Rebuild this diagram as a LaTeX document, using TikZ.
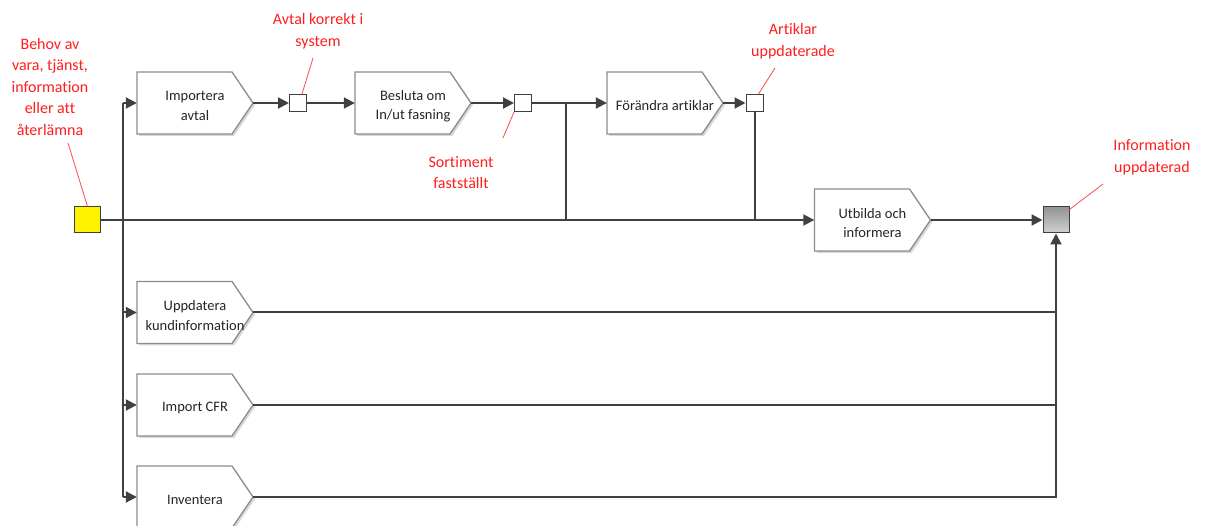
\documentclass[tikz,border=0pt]{standalone}
\usepackage{fontspec}
\setmainfont{Carlito}[Ligatures=NoCommon]
\usetikzlibrary{arrows.meta,calc,shadows}
\definecolor{linecol}{RGB}{64,64,64}
\definecolor{boxcol}{RGB}{140,140,140}
\definecolor{redtxt}{RGB}{255,30,30}
\tikzset{
 conn/.style={draw=linecol, line width=2pt},
 arr/.style={conn, -{Triangle[length=11pt,width=11pt]}},
 procshape/.style={draw=boxcol, line width=1.3pt, fill=white, drop shadow={shadow xshift=2pt, shadow yshift=-2pt, fill=black!25, opacity=0.6}},
 procanchor/.style={inner sep=0pt, minimum width=116pt, minimum height=62pt},
 proctext/.style={font=\fontsize{14.5}{19.5}\selectfont, align=center, text=black!85, inner sep=0pt},
 lab/.style={font=\fontsize{16}{21.5}\selectfont, align=center, text=redtxt, inner sep=0pt},
 leader/.style={draw=redtxt!80, line width=0.8pt},
 evt/.style={draw=linecol, fill=white, line width=1pt, minimum size=17pt, inner sep=0pt},
 bigevt/.style={draw=linecol, line width=1pt, minimum size=26pt, inner sep=0pt},
}
\newcommand\pbox[4]{%
 \path[procshape] ($(#2,#3)+(-58,-31)$) -- ($(#2,#3)+(37,-31)$) -- ($(#2,#3)+(58,0)$) -- ($(#2,#3)+(37,31)$) -- ($(#2,#3)+(-58,31)$) -- cycle;
 \node[procanchor] (#1) at (#2,#3) {};
 \node[proctext] (#1txt) at ($(#1)+(0,3)$) {#4};
}
\begin{document}
\begin{tikzpicture}[x=1pt,y=-1pt]
\clip (0,0) rectangle (1208,526);
\fill[white] (0,0) rectangle (1208,526);
% process boxes
\pbox{imp}{195}{103}{Importera\\avtal}
\pbox{bes}{413}{103}{Besluta om\\In/ut fasning}
\pbox{fora}{665}{103}{Förändra artiklar}
\pbox{utb}{872.5}{220}{Utbilda och\\informera}
\pbox{upd}{195}{312.5}{Uppdatera\\kundinformation}
\pbox{cfr}{195}{405}{Import CFR}
\pbox{inv}{195}{497}{Inventera}
% events
\node[bigevt, fill=yellow] (start) at (87.5,220) {};
\node[bigevt, top color=black!42, bottom color=black!18] (end) at (1056,220) {};
\node[evt] (e1) at (298,103) {};
\node[evt] (e2) at (523,103) {};
\node[evt] (e3) at (754.5,103) {};
% connectors
\coordinate (bt) at (123,103);
\coordinate (bb) at (123,497);
\coordinate (j1) at (566,103);
\draw[conn] (bt) -- (bb);
\draw[arr] (start.east) -- (utb.west);
\draw[arr] (bt) -- (imp.west);
\draw[arr] (upd.west -| bt) -- (upd.west);
\draw[arr] (cfr.west -| bt) -- (cfr.west);
\draw[arr] (bb) -- (inv.west);
\draw[arr] (imp.east) -- (e1.west);
\draw[arr] (e1.east) -- (bes.west);
\draw[arr] (bes.east) -- (e2.west);
\draw[arr] (e2.east) -- (fora.west);
\draw[arr] (fora.east) -- (e3.west);
\draw[conn] (j1) -- (j1 |- start.east);
\draw[conn] (e3.south) -- (e3.south |- start.east);
\draw[arr] (utb.east) -- (end.west);
\draw[conn] (upd.east) -- (upd.east -| end.south);
\draw[conn] (cfr.east) -- (cfr.east -| end.south);
\draw[arr] (inv.east) -| (end.south);
% labels
\node[lab] (l0) at (50,87) {Behov av\\vara, tjänst,\\information\\eller att\\återlämna};
\node[lab] (l1) at (318,31) {Avtal korrekt i\\system};
\node[lab] (l2) at (461,172.5) {Sortiment\\fastställt};
\node[lab] (l3) at (793,41) {Artiklar\\uppdaterade};
\node[lab] (l4) at (1152,157.5) {Information\\uppdaterad};
\coordinate (c0) at (68,143);
\coordinate (c1) at (313,58);
\coordinate (c2) at (503,138);
\coordinate (c3) at (775,68);
\coordinate (c4) at (1103,184);
\draw[leader] (c0) -- (start.north);
\draw[leader] (c1) -- ($(e1.north)+(4,0)$);
\draw[leader] (c2) -- (e2.south west);
\draw[leader] (c3) -- ($(e3.north)+(4,0)$);
\draw[leader] (c4) -- ($(end.north east)+(0,3)$);
\end{tikzpicture}
\end{document}
